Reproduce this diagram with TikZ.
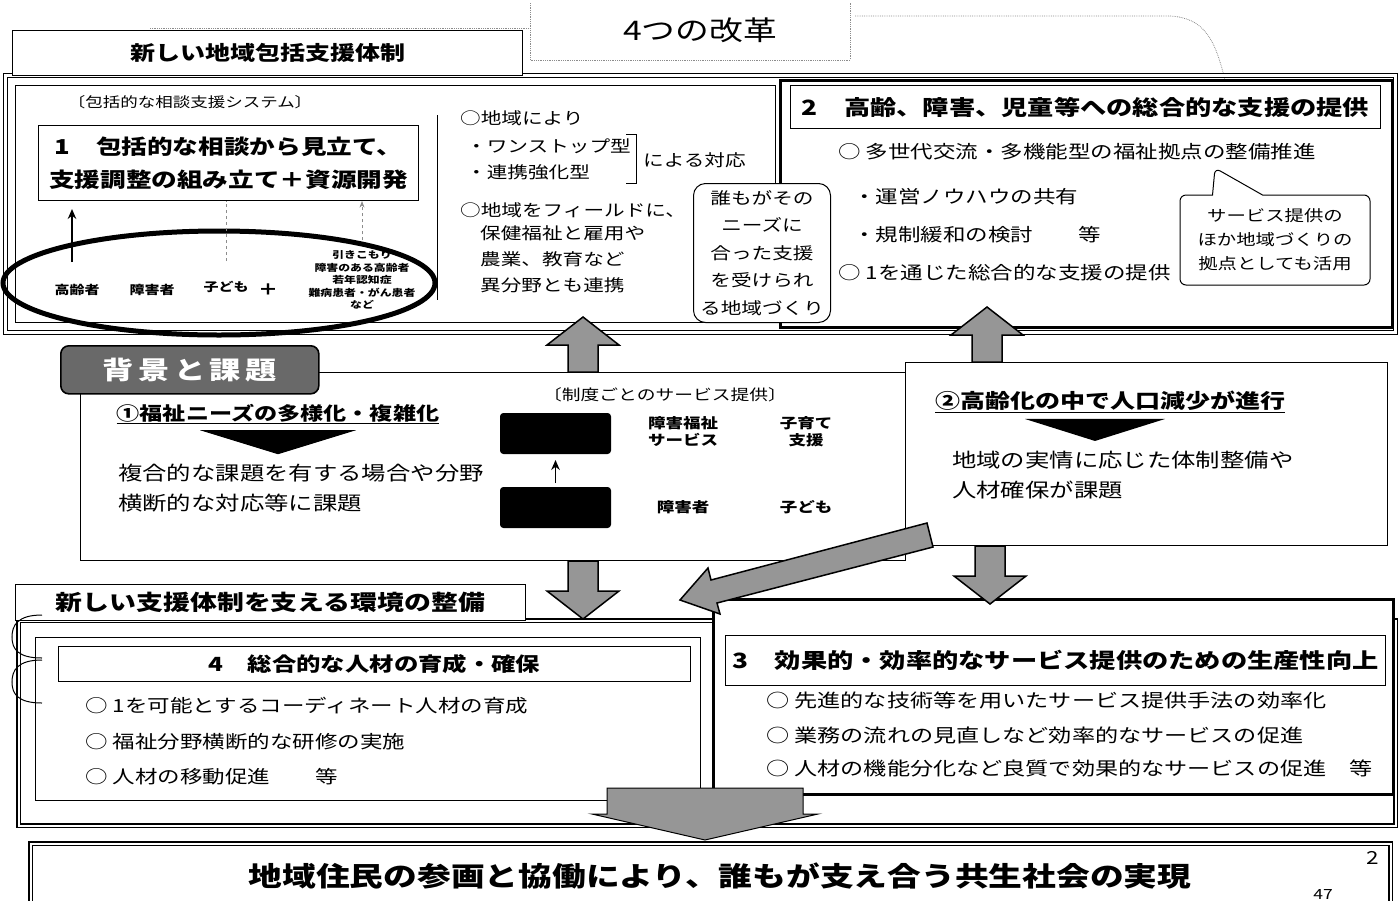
\documentclass[tikz,border=0pt]{standalone}
\usepackage{fontspec}
\setmainfont{Noto Sans CJK JP}[FakeStretch=1.25]
\usetikzlibrary{arrows.meta,positioning,calc,shapes.geometric,shapes.callouts}
\newcommand{\fsz}[2]{\fontsize{#1}{#2}\selectfont}
\definecolor{arrowgray}{RGB}{150,150,150}
\definecolor{badgegray}{RGB}{105,105,105}
\tikzset{
    panelbox/.style={
        draw,
        anchor=north west,
        inner sep=0pt,
        line width=1pt
    },
    heavybox/.style={
        panelbox,
        line width=2.5pt
    },
    headbox/.style={
        panelbox,
        fill=white,
        align=center,
        font=\bfseries\fsz{21}{23}
    },
    itemtext/.style={
        anchor=west,
        inner sep=0pt,
        font=\fsz{18}{20}
    },
    grouptext/.style={
        inner sep=0pt,
        align=center,
        font=\bfseries\fsz{12}{14}
    },
    arrow/.style={
        -{Stealth[length=3.5mm,width=3mm]},
        line width=1.6pt
    },
    faint/.style={
        draw=black!45,
        densely dotted,
        line width=0.8pt
    },
    blockarrow/.style={
        draw,
        line width=1.5pt,
        fill=arrowgray,
        line join=miter
    },
    uparrow/.pic={
        \path[blockarrow]
            (-15,0) -- (-15,-27) -- (-36,-27) -- (0,-55)
            -- (36,-27) -- (15,-27) -- (15,0) -- cycle;
    },
    downarrow/.pic={
        \path[blockarrow]
            (-15,0) -- (-15,30) -- (-36,30) -- (0,58)
            -- (36,30) -- (15,30) -- (15,0) -- cycle;
    }
}

\begin{document}
\begin{tikzpicture}[x=1pt, y=-1pt]
    \useasboundingbox (0,0) rectangle (1399,900);

    \draw[faint] (150,28) -- (530,28);
    \draw[faint] (530,3) -- (530,60) -- (850,60) -- (850,3);
    \draw[faint] (855,16) -- (1170,16)
        .. controls (1205,18) and (1215,40) .. (1225,80);
    \node[font=\fsz{27}{29}] (reform) at (700,30) {4つの改革};

    \node[
        panelbox,
        line width=1.2pt,
        double,
        double distance=2.5pt,
        minimum width=1390pt,
        minimum height=257pt
    ] (topframe) at (5,75) {};
    \node[
        headbox,
        minimum width=510pt,
        minimum height=45pt,
        font=\bfseries\fsz{20}{22}
    ] (tabone) at (12,30) {新しい地域包括支援体制};
    \node[
        panelbox,
        line width=0.8pt,
        minimum width=760pt,
        minimum height=237pt
    ] (leftpanel) at (15,85) {};
    \node[
        heavybox,
        minimum width=612pt,
        minimum height=247pt
    ] (rightpanel) at (779,79) {};

    \node[font=\fsz{14}{16}, inner sep=0pt] (systag) at (190,102)
        {〔包括的な相談支援システム〕};
    \node[
        headbox,
        minimum width=380pt,
        minimum height=75pt,
        font=\bfseries\fsz{20.5}{33}
    ] (reformone) at (38,125)
        {1　包括的な相談から見立て、\\
        支援調整の組み立て＋資源開発};

    \node[
        ellipse,
        draw,
        line width=5pt,
        minimum width=432pt,
        minimum height=104pt,
        inner sep=0pt
    ] (targets) at (219,283) {};
    \node[grouptext] (elder) at (77,290) {高齢者};
    \node[grouptext] (disabled) at (152,290) {障害者};
    \node[grouptext] (children) at (226,287) {子ども};
    \node[grouptext, font=\bfseries\fsz{16}{16}] (plus) at (268,290) {＋};
    \node[grouptext, font=\bfseries\fsz{9.5}{12.5}] (others) at (362,280)
        {引きこもり\\
        障害のある高齢者\\
        若年認知症\\
        難病患者・がん患者\\
        など};

    \coordinate (elderfoot) at (72,262);
    \draw[arrow, shorten >=8pt] (elderfoot) -- (elderfoot |- reformone.south);
    \draw[faint, dashed] ($(children.north)+(0,-20)$)
        -- (children.north |- reformone.south);
    \draw[faint, dashed, -{Stealth}] ($(others.north)+(0,-10)$)
        -- (others.north |- reformone.south);

    \draw[line width=0.8pt] (437,115) -- (437,300);
    \node[itemtext, font=\fsz{16.5}{18}] (byarea) at (460,118) {○地域により};
    \node[itemtext, font=\fsz{16.5}{18}] (onestop) at (466,146) {・ワンストップ型};
    \node[itemtext, font=\fsz{16.5}{18}] (linked) at (466,172) {・連携強化型};
    \draw[line width=1pt] (626,134) -- (636,134) -- (636,183) -- (626,183);
    \node[itemtext, font=\fsz{16.5}{18}] (respond) at (643,160) {による対応};
    \node[itemtext, font=\fsz{16.5}{18}] (field) at (460,210) {○地域をフィールドに、};
    \node[
        itemtext,
        anchor=north west,
        align=left,
        font=\fsz{16.5}{26}
    ] (fieldmore) at (480,225)
        {保健福祉と雇用や\\
        農業、教育など\\
        異分野とも連携};

    \node[
        headbox,
        minimum width=590pt,
        minimum height=43pt
    ] (reformtwo) at (790,85) {2　高齢、障害、児童等への総合的な支援の提供};
    \node[itemtext] (hubbase) at (838,152) {○ 多世代交流・多機能型の福祉拠点の整備推進};
    \node[itemtext] (knowhow) at (853,197) {・運営ノウハウの共有};
    \node[itemtext] (dereg) at (853,235) {・規制緩和の検討　　等};
    \node[itemtext] (viaone) at (838,273) {○ 1を通じた総合的な支援の提供};
    \node[
        rectangle callout,
        draw,
        line width=1pt,
        fill=white,
        rounded corners=6pt,
        minimum width=190pt,
        minimum height=90pt,
        align=center,
        font=\fsz{15.5}{24},
        callout absolute pointer={(1215,168)},
        callout pointer width=50pt
    ] (hubuse) at (1275,240)
        {サービス提供の\\
        ほか地域づくりの\\
        拠点としても活用};

    \node[
        panelbox,
        fill=white,
        rounded corners=12pt,
        minimum width=137pt,
        minimum height=139pt,
        align=center,
        font=\fsz{16.5}{27.5}
    ] (everyone) at (693,183)
        {誰もがその\\
        ニーズに\\
        合った支援\\
        を受けられ\\
        る地域づくり};

    \node[
        panelbox,
        minimum width=825pt,
        minimum height=188pt
    ] (needs) at (80,372) {};
    \node[
        panelbox,
        minimum width=482pt,
        minimum height=183pt
    ] (decline) at (905,362) {};
    \node[
        panelbox,
        rounded corners=8pt,
        fill=badgegray,
        line width=1.6pt,
        minimum width=258pt,
        minimum height=48pt,
        text=white,
        font=\bfseries\fsz{25}{27}\addfontfeature{LetterSpace=18}
    ] (background) at (60,345) {背景と課題};

    \node[font=\bfseries\fsz{18.5}{20}, inner sep=0pt] (needtitle) at (278,414)
        {\underline{①福祉ニーズの多様化・複雑化}};
    \fill (needtitle.south) ++(-78,6) -- ++(156,0) -- ++(-78,24) -- cycle;
    \node[
        itemtext,
        anchor=north west,
        align=left,
        font=\fsz{19.5}{30}
    ] (complex) at (118,464)
        {複合的な課題を有する場合や分野\\
        横断的な対応等に課題};

    \node[font=\fsz{15}{17}, inner sep=0pt] (systemwise) at (665,395)
        {〔制度ごとのサービス提供〕};
    \node[
        panelbox,
        fill=black,
        rounded corners=3pt,
        minimum width=110pt,
        minimum height=40pt
    ] (servicebar) at (500,413) {};
    \node[
        panelbox,
        fill=black,
        rounded corners=3pt,
        minimum width=110pt,
        minimum height=40pt
    ] (userbar) at (500,487) {};
    \draw[arrow, shorten <=4pt, shorten >=6pt] (userbar) -- (servicebar);
    \node[grouptext, font=\bfseries\fsz{14}{17}] (dissvc) at (683,432) {障害福祉\\サービス};
    \node[grouptext, font=\bfseries\fsz{14}{17}] (childsvc) at (806,432) {子育て\\支援};
    \node[grouptext, font=\bfseries\fsz{14}{17}] (disperson) at (683,507) {障害者};
    \node[grouptext, font=\bfseries\fsz{14}{17}] (child) at (806,507) {子ども};

    \node[font=\bfseries\fsz{20}{22}, inner sep=0pt] (declinetitle) at (1110,402)
        {\underline{②高齢化の中で人口減少が進行}};
    \fill (declinetitle.south) ++(-85,6) -- ++(140,0) -- ++(-70,22) -- cycle;
    \node[
        itemtext,
        anchor=north west,
        align=left,
        font=\fsz{19.5}{30}
    ] (regional) at (952,451)
        {地域の実情に応じた体制整備や\\
        人材確保が課題};

    \pic at (583,0 |- needs.north) {uparrow};
    \pic at (987,0 |- decline.north) {uparrow};

    \node[
        panelbox,
        line width=1.2pt,
        double,
        double distance=2pt,
        minimum width=1377pt,
        minimum height=205pt
    ] (supportframe) at (18,620) {};
    \node[
        headbox,
        minimum width=510pt,
        minimum height=36pt,
        font=\bfseries\fsz{21.5}{23}
    ] (tabtwo) at (15,584) {新しい支援体制を支える環境の整備};
    \draw[line width=1pt] (42,615) .. controls (18,615) and (12,625) .. (12,637)
        .. controls (12,649) and (18,658) .. (42,658);
    \draw[line width=1pt] (42,660) .. controls (18,660) and (12,670) .. (12,682)
        .. controls (12,694) and (18,703) .. (42,703);

    \node[
        panelbox,
        minimum width=665pt,
        minimum height=163pt
    ] (hrpanel) at (35,637) {};
    \node[
        headbox,
        minimum width=632pt,
        minimum height=35pt,
        font=\bfseries\fsz{19.5}{21}
    ] (reformfour) at (58,646) {4　総合的な人材の育成・確保};
    \node[itemtext] (coordinator) at (85,706) {○ 1を可能とするコーディネート人材の育成};
    \node[itemtext] (training) at (85,742) {○ 福祉分野横断的な研修の実施};
    \node[itemtext] (mobility) at (85,777) {○ 人材の移動促進　　等};

    \node[
        heavybox,
        fill=white,
        minimum width=680pt,
        minimum height=195pt
    ] (prodpanel) at (712,598) {};
    \node[
        headbox,
        minimum width=660pt,
        minimum height=50pt
    ] (reformthree) at (725,635) {3　効果的・効率的なサービス提供のための生産性向上};
    \node[itemtext, font=\fsz{18.5}{20}] (advanced) at (766,700)
        {○ 先進的な技術等を用いたサービス提供手法の効率化};
    \node[itemtext, font=\fsz{18.5}{20}] (workflow) at (766,735)
        {○ 業務の流れの見直しなど効率的なサービスの促進};
    \node[itemtext, font=\fsz{18.5}{20}] (division) at (766,768)
        {○ 人材の機能分化など良質で効果的なサービスの促進　等};

    \pic at (583,0 |- needs.south) {downarrow};
    \pic at (990,0 |- decline.south) {downarrow};
    \path[blockarrow]
        (927,523) -- (711,580) -- (708,568) -- (680,600)
        -- (720,614) -- (717,603) -- (933,547) -- cycle;

    \path[blockarrow, line width=1pt]
        (607,788) -- (803,788) -- (803,814) -- (818,814) -- (705,840)
        -- (592,814) -- (607,814) -- cycle;

    \node[
        panelbox,
        line width=1.2pt,
        double,
        double distance=2pt,
        fill=white,
        minimum width=1360pt,
        minimum height=62pt
    ] (goal) at (30,843) {};
    \node[font=\bfseries\fsz{27}{30}] (goaltext) at (720,876)
        {地域住民の参画と協働により、誰もが支え合う共生社会の実現};
    \node[font=\fsz{18}{20}] (pageno) at (1373,858) {2};
    \node[font=\fsz{14}{16}] (sheetno) at (1323,894) {47};
\end{tikzpicture}
\end{document}
